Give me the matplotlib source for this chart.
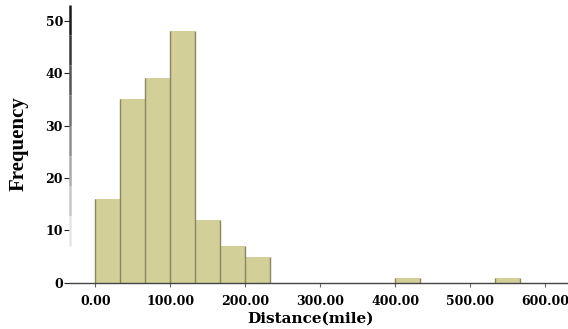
import numpy as np
import matplotlib
matplotlib.use("Agg")
import matplotlib.pyplot as plt

# histogram of distances, bin width 100/3 miles starting at 0
bin_width = 100 / 3
counts = [16, 35, 39, 48, 12, 7, 5, 0, 0, 0, 0, 0, 1, 0, 0, 0, 1, 0]
bin_left = [i * bin_width for i in range(len(counts))]
xticks = [0, 100, 200, 300, 400, 500, 600]
yticks = [0, 10, 20, 30, 40, 50]

fig = plt.figure(figsize=(5.68, 3.29), dpi=100)
ax = fig.add_axes([0.123, 0.14, 0.877, 0.845])

edges = bin_left + [len(counts) * bin_width]
ax.hist(bin_left, bins=edges, weights=counts, color="#d3cf99", edgecolor="none")

# vertical separators between bars (no top outline, like the original)
for i, e in enumerate(edges):
    left = counts[i - 1] if i > 0 else 0
    right = counts[i] if i < len(counts) else 0
    h = max(left, right)
    if h > 0:
        ax.vlines(e, 0, h, color="#8a8660", lw=1.0)

ax.set_xlim(-34, 630)
ax.set_ylim(0, 53)

ax.spines["top"].set_visible(False)
ax.spines["right"].set_visible(False)
ax.spines["bottom"].set_color("#444444")
ax.spines["bottom"].set_linewidth(1.0)
ax.spines["left"].set_visible(False)

# left axis line fading from dark (top) to light (bottom)
seg = np.linspace(53, 7, 9)
for i in range(len(seg) - 1):
    g = 0.1 + 0.8 * i / (len(seg) - 2)
    ax.plot([-34, -34], [seg[i], seg[i + 1]], color=(g, g, g), lw=1.8,
            clip_on=False, solid_capstyle="butt")

ax.set_xticks(xticks)
ax.set_xticklabels(["%.2f" % v for v in xticks])
ax.set_yticks(yticks)
ax.tick_params(axis="x", direction="out", length=3, width=0.8, color="#666666", pad=6)
ax.tick_params(axis="y", direction="out", length=4, width=0.8, color="#222222", pad=1)
for lab in ax.get_xticklabels() + ax.get_yticklabels():
    lab.set_fontfamily("DejaVu Serif")
    lab.set_fontweight("bold")
    lab.set_fontsize(9)

ax.set_xlabel("Distance(mile)", fontfamily="DejaVu Serif", fontweight="bold",
              fontsize=11)
ax.set_ylabel("Frequency", fontfamily="Liberation Serif", fontweight="bold",
              fontsize=15, labelpad=12)
ax.xaxis.set_label_coords(0.484, -0.105)

fig.savefig("out.png", dpi=100)
